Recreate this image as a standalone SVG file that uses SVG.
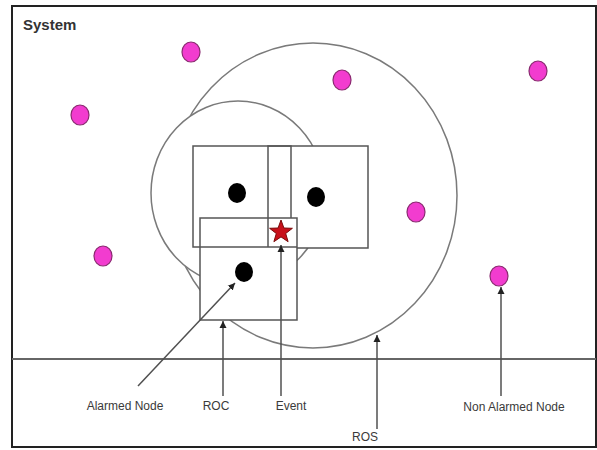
<svg xmlns="http://www.w3.org/2000/svg" width="597" height="450" viewBox="0 0 597 450">
<style>
.lbl{font-family:"Liberation Sans",Arial,sans-serif;font-size:12px;fill:#3a3a3a;text-anchor:middle}
.ttl{font-family:"Liberation Sans",Arial,sans-serif;font-size:15px;font-weight:bold;fill:#333}
.ring{fill:#fff;stroke:#7a7a7a;stroke-width:1.5}
.rfill{fill:#fff;stroke:none}
.redge{fill:none;stroke:#555;stroke-width:1.5}
.pink{fill:#f23ccf;stroke:#8a2a70;stroke-width:1.2}
.blk{fill:#000}
.conn{stroke:#505050;stroke-width:1.5;fill:none;marker-end:url(#ah)}
</style>
<defs>
<marker id="ah" markerUnits="userSpaceOnUse" markerWidth="8" markerHeight="8" refX="7" refY="4" orient="auto">
<path d="M0,0.5 L7,4 L0,7.5 Z" fill="#222"/>
</marker>
</defs>
<rect x="0" y="0" width="597" height="450" fill="#fff"/>
<g id="frame">
<rect x="12" y="6" width="584" height="441" fill="none" stroke="#222" stroke-width="2"/>
<line x1="12" y1="359" x2="596" y2="359" stroke="#666" stroke-width="2"/>
<text class="ttl" x="23" y="30">System</text>
</g>
<g id="ros">
<ellipse class="ring" cx="313" cy="195.5" rx="144" ry="152.5"/>
</g>
<g id="roc-circle">
<ellipse class="ring" cx="238" cy="193" rx="87" ry="92"/>
</g>
<g id="rect-a">
<rect class="rfill" x="193" y="146" width="98" height="101"/>
</g>
<g id="rect-b">
<rect class="rfill" x="268" y="146" width="100" height="102"/>
<rect class="redge" x="268" y="146" width="100" height="102"/>
</g>
<g id="rect-a-edge">
<path class="redge" d="M291 218 V146 H193 V247 H291"/>
</g>
<g id="rect-c">
<rect class="rfill" x="200" y="218" width="97" height="102"/>
<path class="redge" d="M200 247 H297 M268 218 V247"/>
<rect class="redge" x="200" y="218" width="97" height="102"/>
</g>
<g id="alarmed-nodes">
<ellipse class="blk" cx="237" cy="193" rx="9" ry="10"/>
<ellipse class="blk" cx="316" cy="197" rx="9" ry="10"/>
<ellipse class="blk" cx="244" cy="272" rx="9" ry="10"/>
</g>
<g id="event">
<polygon points="281,220 283.9,228 292.4,228.3 285.7,233.5 288.1,241.7 281,236.9 273.9,241.7 276.3,233.5 269.6,228.3 278.1,228" fill="#c8101a" stroke="#7a0a0a" stroke-width="1"/>
</g>
<g id="non-alarmed-nodes">
<ellipse class="pink" cx="191" cy="52" rx="9" ry="10"/>
<ellipse class="pink" cx="342" cy="80" rx="9" ry="10"/>
<ellipse class="pink" cx="538" cy="71" rx="9" ry="10"/>
<ellipse class="pink" cx="80" cy="115" rx="9" ry="10"/>
<ellipse class="pink" cx="416" cy="212" rx="9" ry="10"/>
<ellipse class="pink" cx="103" cy="256" rx="9" ry="10"/>
<ellipse class="pink" cx="499" cy="276" rx="9" ry="10"/>
</g>
<g id="connectors">
<line class="conn" x1="138" y1="386" x2="235" y2="283"/>
<line class="conn" x1="223" y1="396" x2="223" y2="321"/>
<line class="conn" x1="281" y1="396" x2="281" y2="245"/>
<line class="conn" x1="377" y1="429" x2="377" y2="335"/>
<line class="conn" x1="501" y1="396" x2="501" y2="287"/>
</g>
<g id="labels">
<text class="lbl" x="125" y="410">Alarmed Node</text>
<text class="lbl" x="216" y="410">ROC</text>
<text class="lbl" x="291" y="410">Event</text>
<text class="lbl" x="365" y="441">ROS</text>
<text class="lbl" x="514" y="411">Non Alarmed Node</text>
</g>
</svg>
